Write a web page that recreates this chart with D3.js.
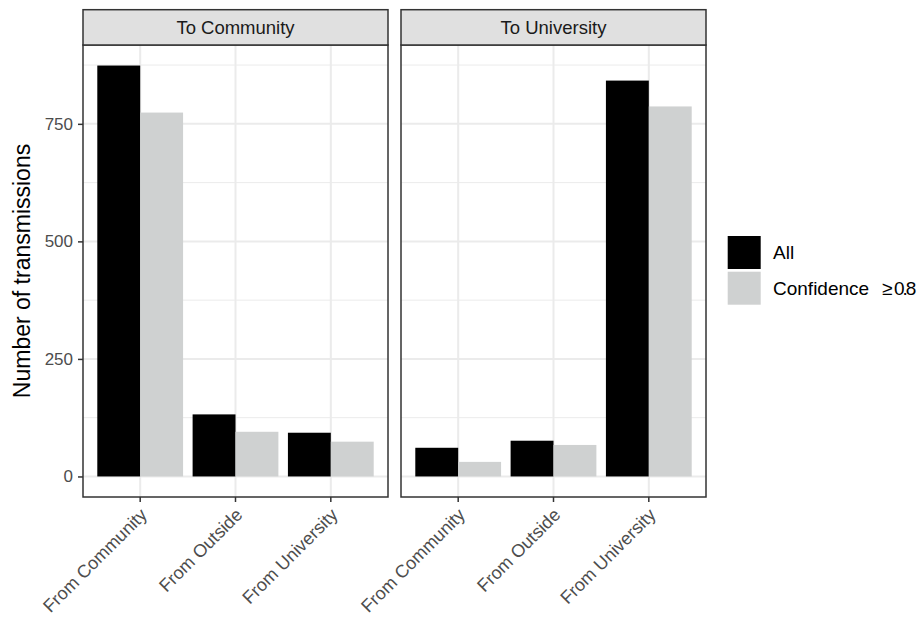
<!DOCTYPE html>
<html>
<head>
<meta charset="utf-8">
<script src="https://cdn.jsdelivr.net/npm/d3@7"></script>
<style>
  html, body { margin: 0; padding: 0; background: #ffffff; }
  svg { display: block; font-family: "Liberation Sans", Arial, Helvetica, sans-serif; }
</style>
</head>
<body>
<svg id="chart" width="918" height="618"></svg>
<script>
// Transmission counts by destination (facet), source (x category) and subset (fill)
const facets = ["To Community", "To University"];
const sources = ["From Community", "From Outside", "From University"];
const subsets = ["All", "Confidence \u2265 0.8"];
const toCommunityAll = [874, 132, 93];
const toCommunityConf = [774, 95, 74];
const toUniversityAll = [61, 76, 842];
const toUniversityConf = [31, 67, 787];
const yTicks = [0, 250, 500, 750];
const yMinorTicks = [125, 375, 625, 875];
const subsetColors = ["#000000", "#cfd1d1"];

const facetValues = {
  "To Community": [toCommunityAll, toCommunityConf],
  "To University": [toUniversityAll, toUniversityConf]
};

const rows = [];
facets.forEach(f => {
  sources.forEach((s, i) => {
    subsets.forEach((g, j) => {
      rows.push({ facet: f, source: s, subset: g, value: facetValues[f][j][i] });
    });
  });
});

const svg = d3.select("#chart");

const stripTop = 9.7, stripBottom = 45, panelBottom = 497;
const panelX = { "To Community": [83, 388], "To University": [401, 706] };

// y scale with 5% expansion on both sides
const maxV = d3.max(rows, d => d.value);
const y = d3.scaleLinear()
  .domain([-0.05 * maxV, 1.05 * maxV])
  .range([panelBottom, stripBottom]);

const color = d3.scaleOrdinal().domain(subsets).range(subsetColors);

facets.forEach((f, fi) => {
  const [x0, x1] = panelX[f];
  const x = d3.scaleBand().domain(sources).range([x0, x1])
    .paddingInner(0.1).paddingOuter(0.15);
  const xSub = d3.scaleBand().domain(subsets).range([0, x.bandwidth()]).padding(0);

  const g = svg.append("g");

  // panel background
  g.append("rect").attr("x", x0).attr("y", stripBottom)
    .attr("width", x1 - x0).attr("height", panelBottom - stripBottom)
    .attr("fill", "#ffffff");

  // minor gridlines
  g.selectAll(".minor").data(yMinorTicks).join("line")
    .attr("x1", x0).attr("x2", x1)
    .attr("y1", d => y(d)).attr("y2", d => y(d))
    .attr("stroke", "#ebebeb").attr("stroke-width", 1);

  // major gridlines
  g.selectAll(".majorY").data(yTicks).join("line")
    .attr("x1", x0).attr("x2", x1)
    .attr("y1", d => y(d)).attr("y2", d => y(d))
    .attr("stroke", "#ebebeb").attr("stroke-width", 2);
  g.selectAll(".majorX").data(sources).join("line")
    .attr("x1", d => x(d) + x.bandwidth() / 2).attr("x2", d => x(d) + x.bandwidth() / 2)
    .attr("y1", stripBottom).attr("y2", panelBottom)
    .attr("stroke", "#ebebeb").attr("stroke-width", 2);

  // bars
  g.selectAll(".bar").data(rows.filter(r => r.facet === f)).join("rect")
    .attr("x", d => x(d.source) + xSub(d.subset))
    .attr("width", xSub.bandwidth())
    .attr("y", d => y(Math.max(0, d.value)))
    .attr("height", d => Math.abs(y(d.value) - y(0)))
    .attr("fill", d => color(d.subset));

  // panel border
  g.append("rect").attr("x", x0).attr("y", stripBottom)
    .attr("width", x1 - x0).attr("height", panelBottom - stripBottom)
    .attr("fill", "none").attr("stroke", "#333333").attr("stroke-width", 1.5);

  // strip
  g.append("rect").attr("x", x0).attr("y", stripTop)
    .attr("width", x1 - x0).attr("height", stripBottom - stripTop)
    .attr("fill", "#e0e0e0").attr("stroke", "#333333").attr("stroke-width", 1.5);
  g.append("text")
    .attr("x", (x0 + x1) / 2).attr("y", (stripTop + stripBottom) / 2)
    .attr("dy", "0.36em").attr("text-anchor", "middle")
    .attr("font-size", 18.5).attr("fill", "#1a1a1a")
    .text(f);

  // x axis
  const xAxis = g.append("g")
    .attr("transform", `translate(0,${panelBottom})`)
    .call(d3.axisBottom(x).tickSize(5).tickSizeOuter(0));
  xAxis.select(".domain").remove();
  xAxis.selectAll(".tick line").attr("stroke", "#333333").attr("stroke-width", 1.5);
  xAxis.selectAll(".tick text")
    .attr("font-size", 18).attr("fill", "#4d4d4d")
    .attr("font-family", "Liberation Sans, Arial, sans-serif")
    .attr("text-anchor", "end")
    .attr("y", 0).attr("dy", 0)
    .attr("transform", "translate(8,19) rotate(-45)");

  // y axis only on first panel
  if (fi === 0) {
    const yAxis = g.append("g")
      .attr("transform", `translate(${x0},0)`)
      .call(d3.axisLeft(y).tickValues(yTicks).tickSize(5).tickSizeOuter(0).tickPadding(5));
    yAxis.select(".domain").remove();
    yAxis.selectAll(".tick line").attr("stroke", "#333333").attr("stroke-width", 1.5);
    yAxis.selectAll(".tick text")
      .attr("font-size", 17).attr("fill", "#4d4d4d")
      .attr("font-family", "Liberation Sans, Arial, sans-serif");
  }
});

// y axis title
svg.append("text")
  .attr("transform", `translate(30,${(stripBottom + panelBottom) / 2}) rotate(-90)`)
  .attr("text-anchor", "middle")
  .attr("font-size", 23).attr("fill", "#000000")
  .text("Number of transmissions");

// legend
const legend = svg.append("g");
const keyX = 727.7, keyY = 236, keySize = 33, keyGap = 35.7;
subsets.forEach((s, i) => {
  legend.append("rect")
    .attr("x", keyX).attr("y", keyY + i * keyGap)
    .attr("width", keySize).attr("height", keySize)
    .attr("fill", color(s));
});
legend.append("text")
  .attr("x", 773).attr("y", keyY + keySize / 2).attr("dy", "0.36em")
  .attr("font-size", 19).attr("fill", "#000000")
  .text(subsets[0]);
const confText = legend.append("text")
  .attr("x", 773).attr("y", keyY + keyGap + keySize / 2).attr("dy", "0.36em")
  .attr("font-size", 19).attr("fill", "#000000");
confText.append("tspan").text("Confidence");
confText.append("tspan").attr("x", 882).text("\u2265");
confText.append("tspan").attr("x", 894).attr("letter-spacing", -2).text("0.8");
</script>
</body>
</html>
